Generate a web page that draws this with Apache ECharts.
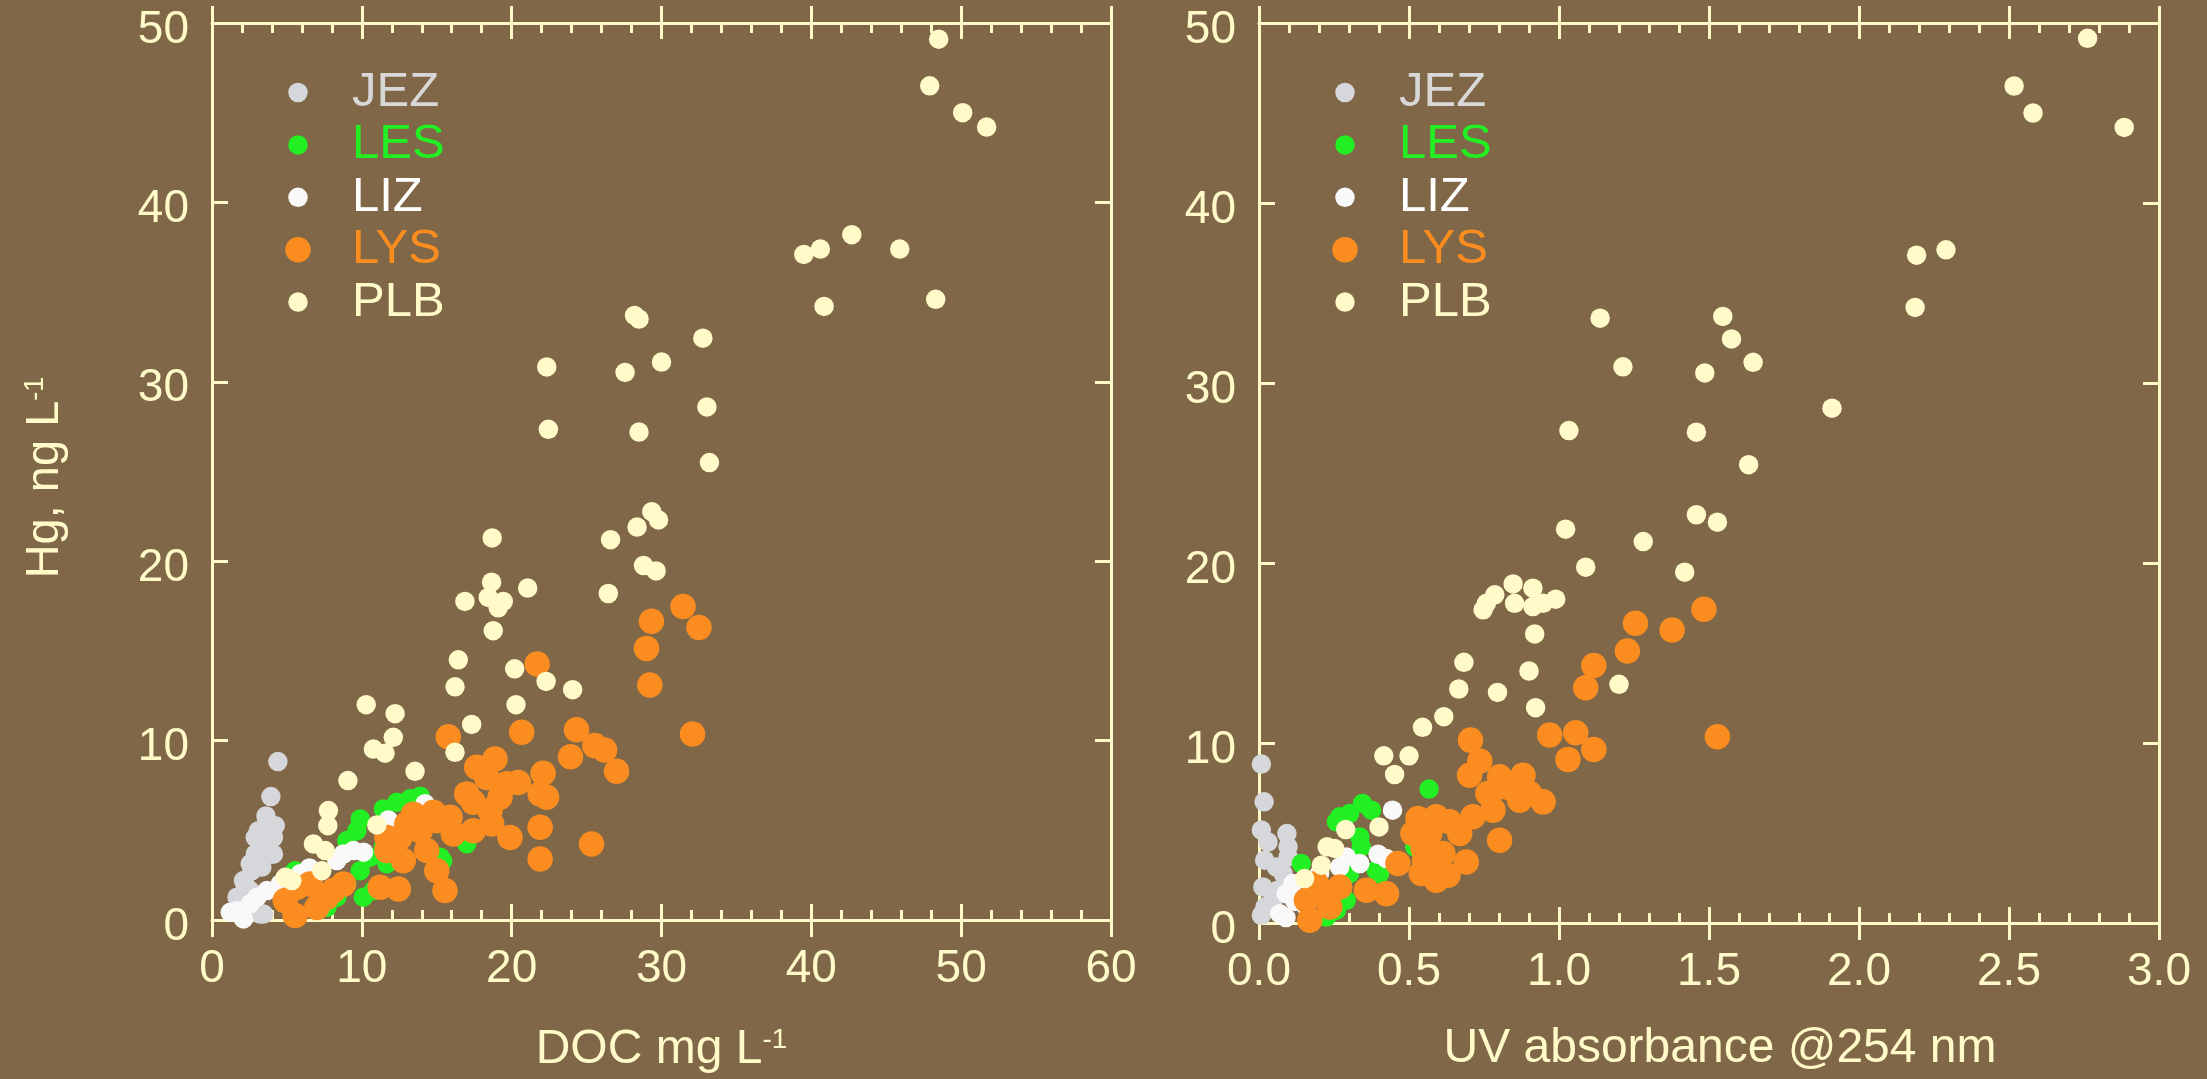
<!DOCTYPE html>
<html>
<head>
<meta charset="utf-8">
<script src="https://cdn.jsdelivr.net/npm/echarts@6/dist/echarts.min.js"></script>
<style>
html,body{margin:0;padding:0;background:#7f6747;}
#chart{width:2207px;height:1079px;}
</style>
</head>
<body>
<div id="chart"></div>
<script>
// ---------- data ----------
const seriesNames = ['JEZ', 'LES', 'LIZ', 'LYS', 'PLB'];
const xTicksDOC = [0, 10, 20, 30, 40, 50, 60];
const xTicksUV = [0, 0.5, 1.0, 1.5, 2.0, 2.5, 3.0];
const yTicksHg = [0, 10, 20, 30, 40, 50];

// Left panel: [DOC mg/L, Hg ng/L]
const jezDOC = [[4.4,8.83],[3.93,6.88],[4.22,5.26],[3.1,4.98],[3.67,4.24],[2.89,3.68],[3.89,3.68],[3.33,2.95],[2.1,2.2],[2.55,1.64],[1.67,1.27],[3.44,0.33],[2.89,4.6],[4.1,4.6],[2.55,3.13],[2.67,2.75],[3.2,0.33],[2.2,2.0],[4.1,3.67],[3.6,5.8]];
const lesDOC = [[13.22,6.76],[12.33,6.56],[11.44,6.19],[9.89,5.63],[9.67,4.98],[9.0,4.43],[10.55,3.5],[9.89,2.75],[10.1,1.27],[9.0,2.0],[7.67,0.7],[5.55,2.75],[17.0,4.25],[15.22,3.5],[11.67,3.13],[11.44,4.05],[10.77,1.64],[8.33,1.27],[13.9,6.9],[15.4,3.3]];
const lizDOC = [[14.22,6.48],[11.77,5.58],[10.11,3.78],[8.77,3.68],[8.33,3.31],[3.67,1.64],[2.55,0.9],[1.67,0.52],[2.1,0.06],[4.55,2.0],[5.89,2.58],[3.0,1.27],[1.22,0.43],[9.44,3.87],[6.5,2.9]];
const lysDOC = [[31.44,17.47],[29.33,16.65],[32.5,16.3],[29.0,15.14],[29.22,13.1],[21.7,14.27],[32.07,10.37],[20.67,10.46],[24.33,10.6],[15.77,10.22],[23.93,9.1],[25.55,9.72],[26.2,9.48],[27.0,8.29],[22.1,8.18],[18.89,8.97],[17.67,8.51],[18.33,7.95],[20.44,7.67],[22.33,6.84],[21.9,7.03],[19.22,6.84],[17.44,6.56],[19.67,7.6],[18.55,6.1],[18.67,5.35],[17.44,4.98],[21.9,5.17],[19.89,4.6],[21.9,3.4],[25.33,4.24],[16.11,4.79],[15.0,5.54],[13.44,5.9],[14.78,6.0],[13.0,5.35],[12.55,4.6],[13.89,4.98],[14.33,3.87],[11.67,3.87],[12.77,3.31],[15.0,2.75],[15.55,1.64],[12.44,1.73],[11.22,1.82],[8.77,2.0],[8.1,1.64],[6.55,2.0],[5.67,1.82],[4.89,1.08],[5.55,0.25],[7.0,0.7],[7.64,1.26],[17.0,7.03],[15.89,5.73],[11.67,4.6]];
const plbDOC = [[48.5,49.1],[47.9,46.5],[50.1,45.0],[51.7,44.2],[39.5,37.1],[40.6,37.4],[42.7,38.2],[45.9,37.4],[40.85,34.2],[48.3,34.6],[28.2,33.7],[28.5,33.5],[32.76,32.43],[30.0,31.1],[27.57,30.52],[22.34,30.83],[33.03,28.6],[22.45,27.35],[28.5,27.2],[33.2,25.5],[29.35,22.76],[29.8,22.3],[28.37,21.9],[26.6,21.2],[18.7,21.3],[28.8,19.76],[29.64,19.46],[26.45,18.2],[18.66,18.83],[21.07,18.5],[16.88,17.76],[18.44,17.98],[19.44,17.76],[19.1,17.4],[18.77,16.13],[16.44,14.5],[16.22,13.0],[20.2,14.0],[22.3,13.3],[24.07,12.84],[20.29,12.0],[17.33,10.9],[16.22,9.35],[10.29,12.0],[12.22,11.5],[12.1,10.18],[10.77,9.53],[11.55,9.3],[13.55,8.29],[9.07,7.77],[7.77,6.1],[7.73,5.26],[11.0,5.3],[6.77,4.24],[7.55,3.87],[7.33,2.75],[4.89,2.38],[5.33,2.2]];

// Right panel: [UV absorbance @254 nm, Hg ng/L]
const jezUV = [[0.008,8.83],[0.017,6.73],[0.008,5.16],[0.093,4.97],[0.097,4.23],[0.019,3.49],[0.058,3.11],[0.013,2.0],[0.008,0.43],[0.047,1.26],[0.08,2.75],[0.097,3.67],[0.03,4.5],[0.06,1.8],[0.02,0.9]];
const lesUV = [[0.567,7.44],[0.345,6.64],[0.375,6.27],[0.302,6.08],[0.258,5.62],[0.336,4.78],[0.341,4.23],[0.141,3.3],[0.391,2.93],[0.302,2.75],[0.291,1.26],[0.258,0.71],[0.225,0.33],[0.519,4.23],[0.402,2.75],[0.269,5.9]];
const lizUV = [[0.445,6.27],[0.397,3.82],[0.336,3.3],[0.291,3.67],[0.269,3.11],[0.202,2.75],[0.091,1.63],[0.069,0.52],[0.113,2.19],[0.425,3.58],[0.158,0.89],[0.12,1.2],[0.09,0.3]];
const lysUV = [[1.483,17.43],[1.255,16.65],[1.377,16.28],[1.228,15.11],[1.116,14.3],[1.089,13.07],[1.528,10.35],[0.969,10.44],[1.056,10.57],[1.116,9.64],[1.03,9.09],[0.705,10.16],[0.736,9.0],[0.702,8.21],[0.802,8.12],[0.88,8.21],[0.841,7.47],[0.763,7.2],[0.947,6.73],[0.869,6.82],[0.78,6.27],[0.713,5.9],[0.802,4.6],[0.53,5.81],[0.591,5.9],[0.636,5.62],[0.569,4.97],[0.669,4.97],[0.547,4.14],[0.613,3.86],[0.691,3.39],[0.591,3.21],[0.541,2.75],[0.63,2.65],[0.591,2.37],[0.463,3.3],[0.425,1.63],[0.358,1.82],[0.269,2.0],[0.213,1.63],[0.158,1.26],[0.169,0.15],[0.236,0.89],[0.191,2.19],[0.513,4.97],[0.552,3.49],[0.802,7.56],[0.902,7.2]];
const plbUV = [[2.762,49.15],[2.517,46.5],[2.58,45.0],[2.884,44.2],[2.192,37.1],[2.29,37.4],[2.187,34.2],[1.546,33.7],[1.137,33.6],[1.575,32.45],[1.647,31.15],[1.213,30.9],[1.486,30.56],[1.91,28.6],[1.033,27.36],[1.458,27.27],[1.632,25.46],[1.458,22.68],[1.528,22.27],[1.022,21.88],[1.281,21.19],[1.089,19.77],[1.419,19.49],[0.847,18.84],[0.913,18.6],[0.786,18.23],[0.747,17.4],[0.852,17.76],[0.913,17.58],[0.989,17.99],[0.947,17.76],[0.758,17.76],[0.919,16.06],[0.683,14.48],[0.9,14.0],[0.666,13.0],[0.795,12.81],[1.2,13.26],[0.922,11.96],[0.616,11.46],[0.545,10.87],[0.416,9.29],[0.5,9.29],[0.452,8.25],[0.4,5.34],[0.289,5.19],[0.227,4.23],[0.252,4.14],[0.208,3.21],[0.152,2.47]];

// ---------- styles ----------
const BG = '#7f6747';
const CREAM = '#fffac8';
const FONT = '"Liberation Sans", Arial, Helvetica, sans-serif';
const seriesColors = ['#d5d7da', '#22f022', '#f9f9f9', '#fb8c20', '#fffac8'];
const legendTextColors = ['#d8d8d8', '#22f022', '#ffffff', '#fb8c20', '#fffac8'];
const symbolSizes = [19.5, 19.5, 19.5, 25.5, 19.5];

const panels = [
  { left: 212, width: 899, ticks: xTicksDOC, name: 'DOC mg L{sup|-1}', decimals: 0, data: [jezDOC, lesDOC, lizDOC, lysDOC, plbDOC], namePad: 0, nameGap: 106 },
  { left: 1259, width: 900, ticks: xTicksUV, name: 'UV absorbance @254 nm', decimals: 1, data: [jezUV, lesUV, lizUV, lysUV, plbUV], namePad: 22, nameGap: 102 }
];
const GRID_TOP = 23, GRID_H = 900;

const lineStyle = { color: CREAM, width: 3 };
const grids = [], xAxes = [], yAxes = [], series = [], legends = [];

panels.forEach((p, gi) => {
  grids.push({ left: p.left, top: GRID_TOP, width: p.width, height: GRID_H, containLabel: false });
  const xmin = p.ticks[0], xmax = p.ticks[p.ticks.length - 1], xint = p.ticks[1] - p.ticks[0];
  const base = { gridIndex: gi, type: 'value', min: xmin, max: xmax, interval: xint, splitLine: { show: false }, minorSplitLine: { show: false } };
  const fmt = v => Number(v).toFixed(p.decimals);
  // bottom: inside major + minor ticks, labels, name
  xAxes.push(Object.assign({}, base, {
    position: 'bottom',
    axisLine: { show: true, onZero: false, lineStyle },
    axisTick: { show: true, inside: true, length: 16, lineStyle },
    minorTick: { show: true, splitNumber: 5, length: 10, lineStyle },
    axisLabel: { show: true, color: CREAM, fontSize: 46, fontFamily: FONT, margin: 26, formatter: fmt },
    name: p.name, nameLocation: 'middle', nameGap: p.nameGap,
    nameTextStyle: { color: CREAM, fontSize: 48, fontFamily: FONT, padding: [0, 0, 0, p.namePad],
      rich: { sup: { color: CREAM, fontSize: 28, fontFamily: FONT, verticalAlign: 'top' } } }
  }));
  // bottom: outside major ticks
  xAxes.push(Object.assign({}, base, {
    position: 'bottom', axisLine: { show: false, onZero: false },
    axisTick: { show: true, inside: false, length: 17, lineStyle },
    axisLabel: { show: false }
  }));
  // top: inside major + minor ticks
  xAxes.push(Object.assign({}, base, {
    position: 'top', axisLine: { show: true, onZero: false, lineStyle },
    axisTick: { show: true, inside: true, length: 16, lineStyle },
    minorTick: { show: true, splitNumber: 5, length: 10, lineStyle },
    axisLabel: { show: false }
  }));
  // top: outside major ticks
  xAxes.push(Object.assign({}, base, {
    position: 'top', axisLine: { show: false, onZero: false },
    axisTick: { show: true, inside: false, length: 17, lineStyle },
    axisLabel: { show: false }
  }));
  const ybase = { gridIndex: gi, type: 'value', min: yTicksHg[0], max: yTicksHg[yTicksHg.length - 1], interval: yTicksHg[1] - yTicksHg[0], splitLine: { show: false } };
  yAxes.push(Object.assign({}, ybase, {
    position: 'left',
    axisLine: { show: true, onZero: false, lineStyle },
    axisTick: { show: true, inside: true, length: 16, lineStyle },
    axisLabel: { show: true, color: CREAM, fontSize: 46, fontFamily: FONT, margin: 23,
      formatter: v => '{t|' + v + '}',
      rich: { t: { color: CREAM, fontSize: 46, fontFamily: FONT, padding: [14, 0, 0, 0] } } },
    name: gi === 0 ? 'Hg, ng L{sup|-1}' : '', nameLocation: 'middle', nameGap: 143, nameRotate: 90,
    nameTextStyle: { color: CREAM, fontSize: 47, fontFamily: FONT, padding: [0, 12, 0, 0],
      rich: { sup: { color: CREAM, fontSize: 27, fontFamily: FONT, verticalAlign: 'top' } } }
  }));
  yAxes.push(Object.assign({}, ybase, {
    position: 'right',
    axisLine: { show: true, onZero: false, lineStyle },
    axisTick: { show: true, inside: true, length: 16, lineStyle },
    axisLabel: { show: false }
  }));

  seriesNames.forEach((nm, si) => {
    series.push({
      type: 'scatter', name: nm, xAxisIndex: gi * 4, yAxisIndex: gi * 2,
      data: p.data[si], symbol: 'circle', symbolSize: symbolSizes[si],
      itemStyle: { color: seriesColors[si], opacity: 1 },
      silent: true, clip: false, z: 2 + si
    });
    const cx = p.left + 86, cy = 93 + si * 52.4, W = 98, h = symbolSizes[si];
    legends.push({
      data: [nm], orient: 'vertical', left: cx - h / 2, top: cy - 25, padding: 0,
      itemWidth: W, itemHeight: h, icon: 'circle', selectedMode: false,
      textStyle: { color: legendTextColors[si], fontSize: 49, fontFamily: FONT }
    });
  });
});

const chart = echarts.init(document.getElementById('chart'), null, { renderer: 'canvas' });
chart.setOption({
  backgroundColor: BG,
  animation: false,
  grid: grids,
  xAxis: xAxes,
  yAxis: yAxes,
  legend: legends,
  series: series
});
</script>
</body>
</html>
